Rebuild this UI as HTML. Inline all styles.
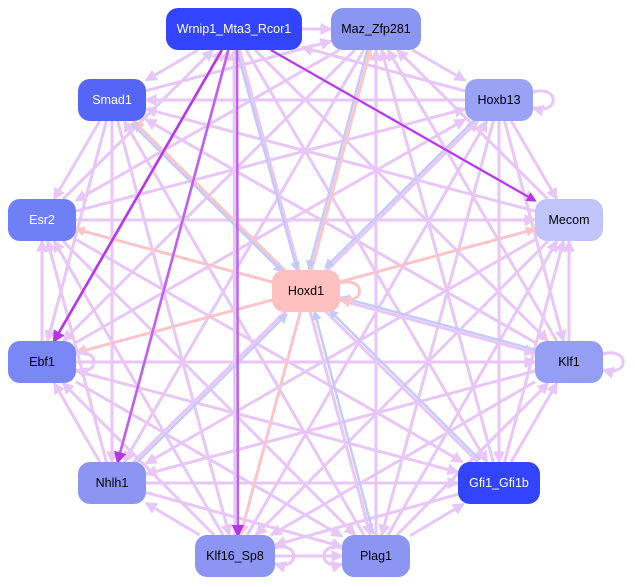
<!DOCTYPE html>
<html><head><meta charset="utf-8"><style>
html,body{margin:0;padding:0;background:#fff;width:635px;height:587px;overflow:hidden}
svg{position:absolute;left:0;top:0}
.n{position:absolute;border-radius:12px;font:12.5px "Liberation Sans",sans-serif;display:flex;align-items:center;justify-content:center}
</style></head><body>
<svg id="g" width="635" height="587" viewBox="0 0 635 587">
<defs>
<marker id="ml" markerWidth="4" markerHeight="4" refX="3.5" refY="2" orient="auto" markerUnits="strokeWidth"><path d="M0,0L4,2L0,4z" fill="#e8c6f8"/></marker>
<marker id="mp" markerWidth="5" markerHeight="5" refX="4" refY="2.5" orient="auto" markerUnits="strokeWidth"><path d="M0,0L5,2.5L0,5z" fill="#b535e8"/></marker>
<marker id="mk" markerWidth="4" markerHeight="4" refX="3.5" refY="2" orient="auto" markerUnits="strokeWidth"><path d="M0,0L4,2L0,4z" fill="#ffc4c4"/></marker>
<marker id="mb" markerWidth="4" markerHeight="4" refX="3.5" refY="2" orient="auto" markerUnits="strokeWidth"><path d="M0,0L4,2L0,4z" fill="#c4cbf8"/></marker>
</defs>
<g id="edges"></g>
<g fill="none" stroke="#e8c6f8" stroke-width="3">
<path d="M533,92 C560,85 560,115 533,108" marker-end="url(#ml)"/>
<path d="M603,354 C630,347 630,377 603,370" marker-end="url(#ml)"/>
<path d="M76,354 C100,347 100,377 76,370" marker-end="url(#ml)"/>
<path d="M342,548 C318,541 318,571 342,564" marker-end="url(#ml)"/>
<path d="M275,548 C300,541 300,571 275,564" marker-end="url(#ml)"/>
</g>
<path d="M340,283 C366,276 366,306 340,299" fill="none" stroke="#ffc4c4" stroke-width="3" marker-end="url(#mk)"/>
</svg>
<div class="n" style="left:166px;top:8px;width:136px;height:42px;background:#3344ff;color:#fff">Wrnip1_Mta3_Rcor1</div>
<div class="n" style="left:331px;top:8px;width:90px;height:42px;background:#8a96f2;color:#000">Maz_Zfp281</div>
<div class="n" style="left:465px;top:79px;width:68px;height:42px;background:#9aa2f5;color:#000">Hoxb13</div>
<div class="n" style="left:78px;top:79px;width:68px;height:42px;background:#5566f7;color:#fff">Smad1</div>
<div class="n" style="left:8px;top:199px;width:68px;height:42px;background:#6f7ff6;color:#fff">Esr2</div>
<div class="n" style="left:535px;top:199px;width:68px;height:42px;background:#c0c4fa;color:#000">Mecom</div>
<div class="n" style="left:272px;top:270px;width:68px;height:42px;background:#ffc0c0;color:#000">Hoxd1</div>
<div class="n" style="left:8px;top:341px;width:68px;height:42px;background:#7a88f5;color:#000">Ebf1</div>
<div class="n" style="left:535px;top:341px;width:68px;height:42px;background:#949ef5;color:#000">Klf1</div>
<div class="n" style="left:78px;top:462px;width:68px;height:42px;background:#8c96f2;color:#000">Nhlh1</div>
<div class="n" style="left:458px;top:462px;width:82px;height:42px;background:#3344ff;color:#fff">Gfi1_Gfi1b</div>
<div class="n" style="left:195px;top:535px;width:80px;height:42px;background:#8c96f2;color:#000">Klf16_Sp8</div>
<div class="n" style="left:342px;top:535px;width:68px;height:42px;background:#8c96f2;color:#000">Plag1</div>
<script>
var N={W:[234,29,68],M:[376,29,45],B:[499,100,34],S:[112,100,34],E:[42,220,34],C:[569,220,34],H:[306,291,34],F:[42,362,34],K:[569,362,34],L:[112,483,34],G:[499,483,41],P:[235,556,40],Q:[376,556,34]};
var outer="WMBSECFKLGPQ".split("");
var g=document.getElementById("edges"),ns="http://www.w3.org/2000/svg";
function clip(a,b){var dx=b[0]-a[0],dy=b[1]-a[1];var tx=Math.abs(dx)>0?(a[2])/Math.abs(dx):9,ty=Math.abs(dy)>0?21/Math.abs(dy):9;var t=Math.min(tx,ty);return [a[0]+dx*t,a[1]+dy*t];}
function line(f,t,col,mk,w,off){var a=N[f],b=N[t];var p=clip(a,b),q=clip(b,a);var dx=q[0]-p[0],dy=q[1]-p[1],L=Math.hypot(dx,dy);var ox=-dy/L*off,oy=dx/L*off;var l=document.createElementNS(ns,"line");l.setAttribute("x1",p[0]+ox);l.setAttribute("y1",p[1]+oy);l.setAttribute("x2",q[0]+ox);l.setAttribute("y2",q[1]+oy);l.setAttribute("stroke",col);l.setAttribute("stroke-width",w);l.setAttribute("marker-end","url(#"+mk+")");g.appendChild(l);}
for(var i=0;i<outer.length;i++)for(var j=i+1;j<outer.length;j++){if((i+j)%2)line(outer[i],outer[j],"#e8c6f8","ml",3,0);else line(outer[j],outer[i],"#e8c6f8","ml",3,0);}
["S","E","F","C","M","P"].forEach(function(k){line("H",k,"#ffc4c4","mk",2.5,0);});
["W","M","B","K","G","Q","L","S"].forEach(function(k){line(k,"H","#c4cbf8","mb",2.5,3);});
line("W","F","#b535e8","mp",2.5,0);line("W","L","#c060f0","mp",2.5,0);line("W","P","#c060f0","mp",2.5,-3);line("W","C","#b535e8","mp",2,0);
</script>
</body></html>
